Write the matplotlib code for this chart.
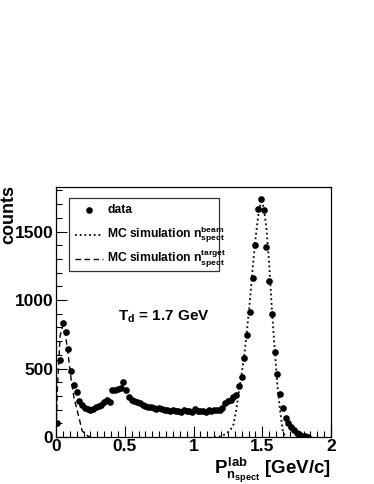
import matplotlib
matplotlib.use("Agg")
import matplotlib.pyplot as plt
from matplotlib.ticker import MultipleLocator
from matplotlib.patches import Rectangle
from matplotlib.lines import Line2D
import numpy as np

plt.rcParams['font.family'] = ['Liberation Sans', 'DejaVu Sans']
plt.rcParams['font.weight'] = 'bold'
plt.rcParams['mathtext.fontset'] = 'custom'
plt.rcParams['mathtext.rm'] = 'Liberation Sans:bold'
plt.rcParams['mathtext.it'] = 'Liberation Sans:bold'
plt.rcParams['mathtext.bf'] = 'Liberation Sans:bold'
plt.rcParams['mathtext.sf'] = 'Liberation Sans:bold'

# ---- data (bin centres, 0.02 GeV/c bins) ----
data_x = [0.01 + 0.02 * k for k in range(92)]
data_counts = [
    105, 565, 830, 770, 640, 485, 380, 325, 262, 230,   # 0.01-0.19
    210, 205, 200, 205, 220, 228, 235, 258, 268, 258,   # 0.21-0.39
    345, 345, 350, 358, 402, 345, 292, 272, 262, 258,   # 0.41-0.59
    246, 236, 225, 218, 222, 212, 206, 215, 205, 198,   # 0.61-0.79
    195, 188, 196, 192, 190, 186, 195, 188, 190, 185,   # 0.81-0.99
    205, 190, 188, 192, 186, 195, 192, 198, 196, 200,   # 1.01-1.19
    210, 250, 262, 270, 292, 306, 375, 440, 579, 745,   # 1.21-1.39
    915, 1163, 1401, 1662, 1737, 1659, 1387, 1139, 898, 618,  # 1.41-1.59
    460, 314, 214, 136, 100, 75, 51, 31, 20, 10,        # 1.61-1.79
    5, 2,                                               # 1.81-1.83
]

beam_x = [1.15, 1.17, 1.19, 1.21, 1.23, 1.25, 1.27, 1.29, 1.31, 1.33,
          1.35, 1.37, 1.39, 1.41, 1.43, 1.45, 1.47, 1.49, 1.51, 1.53,
          1.55, 1.57, 1.59, 1.61, 1.63, 1.65, 1.67]
beam_counts = [0, 0, 3, 10, 20, 35, 55, 90, 190, 330,
               460, 600, 790, 990, 1230, 1440, 1610, 1720, 1680, 1530,
               1270, 930, 650, 380, 190, 40, 0]

target_x = [0.0, 0.01, 0.03, 0.05, 0.07, 0.09, 0.11, 0.13, 0.15, 0.17,
            0.19, 0.21, 0.23, 0.25]
target_counts = [0, 350, 740, 815, 740, 590, 420, 290, 210, 130,
                 45, 25, 8, 0]

x_ticks = [0, 0.5, 1, 1.5, 2]
x_tick_labels = ['0', '0.5', '1', '1.5', '2']
y_ticks = [0, 500, 1000, 1500]
y_tick_labels = ['0', '500', '1000', '1500']

legend_labels = ['data',
                 r'MC simulation n$^{beam}_{spect}$',
                 r'MC simulation n$^{target}_{spect}$']

# ---- figure ----
fig = plt.figure(figsize=(3.74, 4.84), dpi=100)
ax = fig.add_axes([56 / 374, 47 / 484, 275 / 374, 250 / 484])

ax.plot(target_x, target_counts, color='black', linestyle=(0, (4, 2.5)), lw=1.0)
ax.plot(beam_x, beam_counts, color='black', linestyle=(0, (1, 1.6)), lw=1.3)
ax.plot(data_x, data_counts, 'o', color='black', markersize=4.8, markeredgewidth=0)

ax.set_xlim(0, 2)
ax.set_ylim(0, 1825)

ax.set_xticks(x_ticks)
ax.set_xticklabels(x_tick_labels, fontsize=12.5, fontweight='bold')
ax.set_yticks(y_ticks)
ax.set_yticklabels(y_tick_labels, fontsize=12.5, fontweight='bold')
ax.xaxis.set_minor_locator(MultipleLocator(0.05))
ax.yaxis.set_minor_locator(MultipleLocator(100))
ax.tick_params(which='major', direction='in', length=8, width=0.8,
               top=False, right=False, pad=2)
ax.tick_params(which='minor', direction='in', length=4, width=0.8,
               top=False, right=False)
ax.tick_params(axis='x', which='major', pad=1.5)
for s in ax.spines.values():
    s.set_linewidth(0.9)

ax.text(-0.172, 1.008, 'counts', rotation=90, ha='center', va='top',
        fontsize=13, fontweight='bold', transform=ax.transAxes)
ax.text(1.0, -0.132, r'$P^{lab}_{n_{spect}}$ [GeV/c]', ha='right', va='center',
        fontsize=13.5, fontweight='bold', transform=ax.transAxes)

ax.text(0.225, 0.48, r'T$_{d}$ = 1.7 GeV', ha='left', va='center',
        fontsize=11, fontweight='bold', transform=ax.transAxes)

# ---- legend box ----
lx0, lx1 = (69 - 56) / 275, (219 - 56) / 275
ly0, ly1 = (437 - 271) / 250, (437 - 198) / 250
ax.add_patch(Rectangle((lx0, ly0), lx1 - lx0, ly1 - ly0, transform=ax.transAxes,
                       facecolor='white', edgecolor='#333333', lw=0.9, zorder=5))
rows = [(437 - 210) / 250, (437 - 235) / 250, (437 - 259) / 250]
sx0, sx1 = (75 - 56) / 275, (103 - 56) / 275
tx = (107 - 56) / 275
ax.add_line(Line2D([(sx0 + sx1) / 2], [rows[0]], marker='o', color='black',
                   markersize=4.8, markeredgewidth=0, transform=ax.transAxes, zorder=6))
ax.add_line(Line2D([sx0, sx1], [rows[1], rows[1]], color='black',
                   linestyle=(0, (1, 1.6)), lw=1.3, transform=ax.transAxes, zorder=6))
ax.add_line(Line2D([sx0, sx1], [rows[2], rows[2]], color='black',
                   linestyle=(0, (4, 2.5)), lw=1.0, transform=ax.transAxes, zorder=6))
for r, lab in zip(rows, legend_labels):
    ax.text(tx, r, lab, ha='left', va='center', fontsize=8.7, fontweight='bold',
            transform=ax.transAxes, zorder=7)

fig.savefig('out.png', dpi=100, facecolor='white')
